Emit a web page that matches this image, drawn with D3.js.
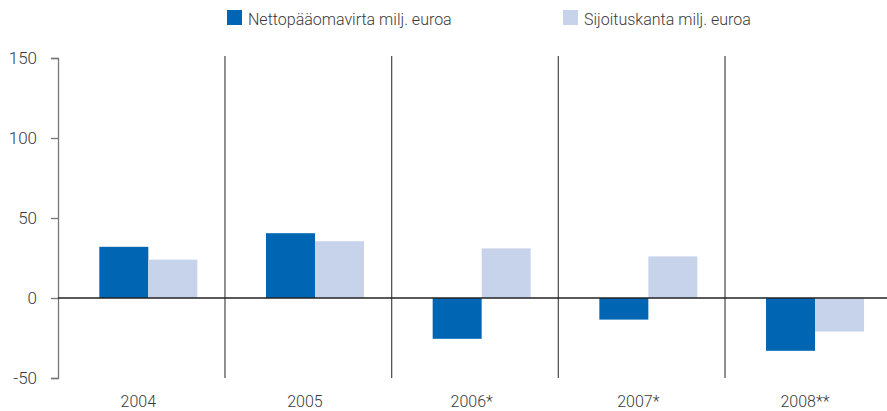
<!DOCTYPE html>
<html>
<head>
<meta charset="utf-8">
<script src="https://cdn.jsdelivr.net/npm/d3@7"></script>
<style>
  body { margin: 0; background: #fff; }
  svg { display: block; }
  text { font-family: Roboto, "Liberation Sans", sans-serif; font-weight: 300; fill: #3a3a3a; }
</style>
</head>
<body>
<svg id="chart" width="887" height="411"></svg>
<script>
const years = ["2004", "2005", "2006*", "2007*", "2008**"];
const seriesNames = ["Nettopääomavirta milj. euroa", "Sijoituskanta milj. euroa"];
const netFlow = [32, 40.5, -25.5, -13.5, -33];
const stock = [24, 35.5, 31, 26, -21];
const yTicks = [-50, 0, 50, 100, 150];

const colors = ["#0066b3", "#c7d3eb"];
const width = 887, height = 411;

const svg = d3.select("#chart");

const x = d3.scaleBand().domain(years).range([58.3, 891.7]).padding(0);
const bw = x.bandwidth();
const xSub = d3.scaleBand().domain([0, 1]).range([bw * 0.246, bw * 0.834]);
const y = d3.scaleLinear().domain([-50, 150]).range([378, 58]);

const rows = years.map((yr, i) => ({ year: yr, values: [netFlow[i], stock[i]] }));

// vertical separators between categories
svg.append("g")
    .selectAll("line")
    .data(years.slice(1))
    .join("line")
    .attr("x1", d => x(d)).attr("x2", d => x(d))
    .attr("y1", y(150) - 2).attr("y2", y(-50))
    .attr("stroke", "#555")
    .attr("stroke-width", 1.3);

// bars
svg.append("g")
    .selectAll("g")
    .data(rows)
    .join("g")
    .attr("transform", d => `translate(${x(d.year)},0)`)
    .selectAll("rect")
    .data(d => d.values.map((v, k) => ({ v, k })))
    .join("rect")
    .attr("x", d => xSub(d.k))
    .attr("width", xSub.bandwidth())
    .attr("y", d => y(Math.max(0, d.v)))
    .attr("height", d => Math.abs(y(d.v) - y(0)))
    .attr("fill", d => colors[d.k]);

// y axis
const yAxis = svg.append("g")
    .attr("transform", "translate(58,0)")
    .call(d3.axisLeft(y).tickValues(yTicks).tickFormat(d => String(d))
        .tickSize(7).tickPadding(14).tickSizeOuter(7));
yAxis.select(".domain").attr("stroke", "#777").attr("stroke-width", 1.3);
yAxis.selectAll(".tick line").attr("stroke", "#777").attr("stroke-width", 1.3);
yAxis.selectAll(".tick text")
    .attr("font-size", 17)
    .style("font-family", "Roboto, 'Liberation Sans', sans-serif")
    .style("font-weight", 300)
    .attr("fill", "#3a3a3a");

// zero line
svg.append("line")
    .attr("x1", 58).attr("x2", width)
    .attr("y1", y(0)).attr("y2", y(0))
    .attr("stroke", "#222")
    .attr("stroke-width", 1.5);

// category labels
svg.append("g")
    .selectAll("text")
    .data(years)
    .join("text")
    .attr("x", d => x(d) + 80)
    .attr("y", 407)
    .attr("text-anchor", "middle")
    .attr("font-size", 16)
    .text(d => d);

// legend
const legendX = [227, 563];
const legend = svg.append("g")
    .selectAll("g")
    .data(seriesNames)
    .join("g")
    .attr("transform", (d, i) => `translate(${legendX[i]},10)`);
legend.append("rect")
    .attr("width", 15).attr("height", 15)
    .attr("fill", (d, i) => colors[i]);
legend.append("text")
    .attr("x", 21).attr("y", 15)
    .attr("font-size", 16)
    .text(d => d);
</script>
</body>
</html>
